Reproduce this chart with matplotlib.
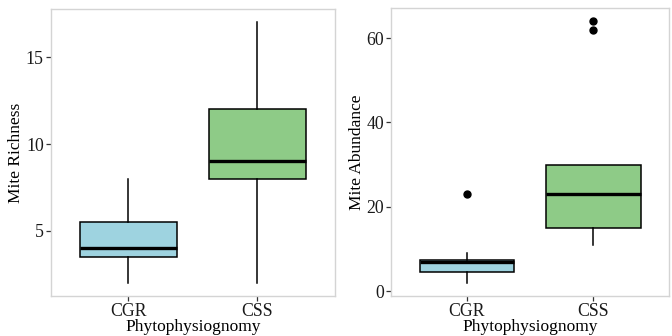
import matplotlib.pyplot as plt

plt.rcParams['font.family'] = ['Liberation Serif', 'DejaVu Serif']

groups = ['CGR', 'CSS']
colors = ['#9ed3e0', '#8ecb87']

# box stats: low whisker, q1, median, q3, high whisker
rich_lo = [2, 2]
rich_q1 = [3.5, 8]
rich_med = [4, 9]
rich_q3 = [5.5, 12]
rich_hi = [8, 17]
rich_out = [[], []]

abun_lo = [2, 11]
abun_q1 = [4.5, 15]
abun_med = [7, 23]
abun_q3 = [7.5, 30]
abun_hi = [9, 30]
abun_out = [[23], [62, 64]]


def make_stats(lo, q1, med, q3, hi, out):
    stats = []
    for i in range(len(groups)):
        stats.append({'whislo': lo[i], 'q1': q1[i], 'med': med[i], 'q3': q3[i],
                      'whishi': hi[i], 'fliers': out[i], 'label': groups[i]})
    return stats


def draw(ax, stats, ylabel, yticks, ylim):
    bp = ax.bxp(stats, positions=[1, 2], widths=0.75, patch_artist=True,
                showcaps=False,
                boxprops=dict(edgecolor='black', linewidth=1.1),
                medianprops=dict(color='black', linewidth=2.4),
                whiskerprops=dict(color='black', linewidth=1.1),
                flierprops=dict(marker='o', markerfacecolor='black',
                                markeredgecolor='black', markersize=5))
    for patch, c in zip(bp['boxes'], colors):
        patch.set_facecolor(c)
    ax.set_xlim(0.4, 2.6)
    ax.set_ylim(*ylim)
    ax.set_yticks(yticks)
    ax.set_xticks([1, 2])
    ax.set_xticklabels(groups)
    for s in ax.spines.values():
        s.set_color('#d4d4d4')
        s.set_linewidth(1)
    ax.tick_params(colors='#333333', labelcolor='#1a1a1a', labelsize=12.8,
                   length=3.5, width=0.9, pad=1.5)
    ax.set_xlabel('Phytophysiognomy', fontsize=12.5, labelpad=-0.5)
    ax.set_ylabel(ylabel, fontsize=12.5, labelpad=1)


fig = plt.figure(figsize=(6.72, 3.36), dpi=100)
ax1 = fig.add_axes([0.0755, 0.119, 0.423, 0.853])
ax2 = fig.add_axes([0.582, 0.119, 0.414, 0.857])

draw(ax1, make_stats(rich_lo, rich_q1, rich_med, rich_q3, rich_hi, rich_out),
     'Mite Richness', [5, 10, 15], (1.25, 17.75))
draw(ax2, make_stats(abun_lo, abun_q1, abun_med, abun_q3, abun_hi, abun_out),
     'Mite Abundance', [0, 20, 40, 60], (-1.1, 67.1))

fig.savefig('out.png', dpi=100)
